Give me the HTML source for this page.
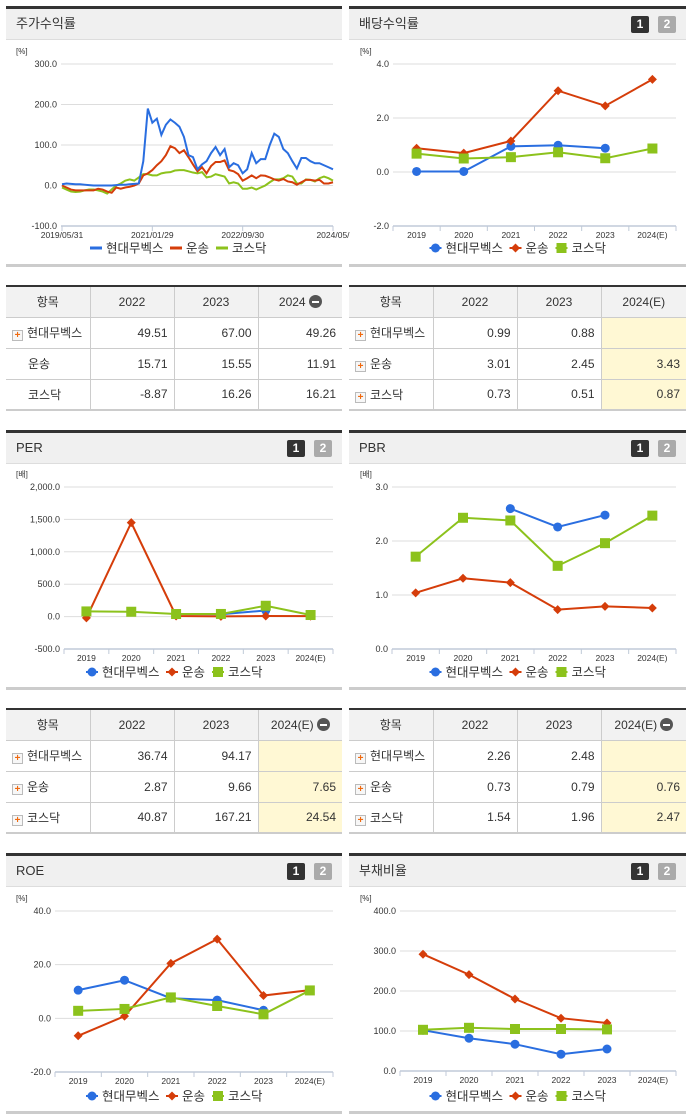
<!DOCTYPE html>
<html><head><meta charset="utf-8">
<style>
*{margin:0;padding:0;box-sizing:border-box}
body{width:691px;height:1115px;position:relative;background:#fff;font-family:"Liberation Sans","Noto Sans CJK KR",sans-serif;color:#333;overflow:hidden}
.panel{position:absolute;border-top:3px solid #333;border-bottom:3px solid #ccc}
.ph{height:31px;background:#f0f0f0;border-bottom:1px solid #ddd;font-size:13px;line-height:30px;padding-left:10px;position:relative;color:#333}
.btn{position:absolute;top:7px;width:18px;height:17px;font-size:12px;font-weight:bold;color:#fff;text-align:center;line-height:17px;border-radius:2px}
.b1{right:37px;background:#333}.b2{right:10px;background:#aaa}
table{position:absolute;border-collapse:collapse;border-top:2px solid #333;border-bottom:2px solid #ccc;font-size:12px}
td,th{border:1px solid #ccc;height:31px;font-weight:normal}
th{background:#f2f2f2;text-align:center}
td{text-align:right;padding-right:6px}
td.n{text-align:left;padding-left:6px}
tr td:first-child,tr th:first-child{border-left:none}
tr td:last-child,tr th:last-child{border-right:none}
.y{background:#fff8d4}
.plus{display:inline-block;width:11px;height:11px;border:1px solid #bbb;background:#f7f7f7;color:#f06a10;font-size:10px;line-height:9px;text-align:center;font-weight:bold;vertical-align:-1px;margin-right:4px}
.sp{display:inline-block;width:16px}
.minus{display:inline-block;width:13px;height:13px;border-radius:50%;background:#555;vertical-align:-2px;margin-left:3px;position:relative}
.minus:after{content:"";position:absolute;left:3px;top:6px;width:7px;height:2px;background:#fff}
svg{position:absolute;left:0;top:0}
</style></head><body>

<div class="panel" style="left:6px;top:6px;width:336px;height:261px"><div class="ph">주가수익률</div></div>
<div class="panel" style="left:349px;top:6px;width:337px;height:261px"><div class="ph">배당수익률<span class="btn b1">1</span><span class="btn b2">2</span></div></div>
<div class="panel" style="left:6px;top:430px;width:336px;height:260px"><div class="ph">PER<span class="btn b1">1</span><span class="btn b2">2</span></div></div>
<div class="panel" style="left:349px;top:430px;width:337px;height:260px"><div class="ph">PBR<span class="btn b1">1</span><span class="btn b2">2</span></div></div>
<div class="panel" style="left:6px;top:853px;width:336px;height:261px"><div class="ph">ROE<span class="btn b1">1</span><span class="btn b2">2</span></div></div>
<div class="panel" style="left:349px;top:853px;width:337px;height:261px"><div class="ph">부채비율<span class="btn b1">1</span><span class="btn b2">2</span></div></div>

<table style="left:6px;top:285px;width:336px">
<colgroup><col style="width:84px"><col style="width:84px"><col style="width:84px"><col style="width:84px"></colgroup>
<tr><th>항목</th><th>2022</th><th>2023</th><th>2024<span class="minus"></span></th></tr>
<tr><td class="n"><span class="plus">+</span>현대무벡스</td><td>49.51</td><td>67.00</td><td>49.26</td></tr>
<tr><td class="n"><span class="sp"></span>운송</td><td>15.71</td><td>15.55</td><td>11.91</td></tr>
<tr><td class="n"><span class="sp"></span>코스닥</td><td>-8.87</td><td>16.26</td><td>16.21</td></tr>
</table>
<table style="left:349px;top:285px;width:337px">
<colgroup><col style="width:84px"><col style="width:84px"><col style="width:84px"><col style="width:85px"></colgroup>
<tr><th>항목</th><th>2022</th><th>2023</th><th>2024(E)</th></tr>
<tr><td class="n"><span class="plus">+</span>현대무벡스</td><td>0.99</td><td>0.88</td><td class="y"></td></tr>
<tr><td class="n"><span class="plus">+</span>운송</td><td>3.01</td><td>2.45</td><td class="y">3.43</td></tr>
<tr><td class="n"><span class="plus">+</span>코스닥</td><td>0.73</td><td>0.51</td><td class="y">0.87</td></tr>
</table>
<table style="left:6px;top:708px;width:336px">
<colgroup><col style="width:84px"><col style="width:84px"><col style="width:84px"><col style="width:84px"></colgroup>
<tr><th>항목</th><th>2022</th><th>2023</th><th>2024(E)<span class="minus"></span></th></tr>
<tr><td class="n"><span class="plus">+</span>현대무벡스</td><td>36.74</td><td>94.17</td><td class="y"></td></tr>
<tr><td class="n"><span class="plus">+</span>운송</td><td>2.87</td><td>9.66</td><td class="y">7.65</td></tr>
<tr><td class="n"><span class="plus">+</span>코스닥</td><td>40.87</td><td>167.21</td><td class="y">24.54</td></tr>
</table>
<table style="left:349px;top:708px;width:337px">
<colgroup><col style="width:84px"><col style="width:84px"><col style="width:84px"><col style="width:85px"></colgroup>
<tr><th>항목</th><th>2022</th><th>2023</th><th>2024(E)<span class="minus"></span></th></tr>
<tr><td class="n"><span class="plus">+</span>현대무벡스</td><td>2.26</td><td>2.48</td><td class="y"></td></tr>
<tr><td class="n"><span class="plus">+</span>운송</td><td>0.73</td><td>0.79</td><td class="y">0.76</td></tr>
<tr><td class="n"><span class="plus">+</span>코스닥</td><td>1.54</td><td>1.96</td><td class="y">2.47</td></tr>
</table>

<svg id="charts" width="691" height="1115"></svg>

<script>
// ---- data ----
const years = ["2019","2020","2021","2022","2023","2024(E)"];
const seriesNames = ["현대무벡스","운송","코스닥"];
const stockTickLabels = ["2019/05/31","2021/01/29","2022/09/30","2024/05/"];
const stockTickIdx = [0,20,40,60];
const stockHyundai = [3,5,4,3,3,2,1,0,0,0,0,0,1,2,2,3,4,5,60,190,155,165,125,150,163,155,145,120,75,70,40,52,60,80,95,75,90,45,55,50,30,40,80,55,65,65,100,128,120,90,80,60,42,68,68,60,55,55,50,45,40];
const stockTransport = [0,-5,-10,-12,-12,-12,-12,-12,-8,-10,-15,-18,-5,-8,-5,-3,0,5,25,30,38,50,60,75,97,92,80,87,70,52,35,45,30,48,58,58,62,38,35,28,12,18,25,18,25,24,20,15,12,16,10,8,2,8,14,14,12,14,5,5,8];
const stockKosdaq = [-5,-10,-15,-16,-15,-12,-10,-10,-12,-15,-20,-10,0,5,12,15,12,20,28,28,25,25,30,32,33,37,38,38,35,32,30,33,20,22,28,25,22,5,8,5,-8,-8,-5,-10,-5,0,8,15,15,18,25,22,5,5,15,14,10,18,22,18,12];
const stockTicks = [300,200,100,0,-100];

const divHyundai = [0.02,0.02,0.95,0.99,0.88,null];
const divTransport = [0.88,0.70,1.15,3.01,2.45,3.43];
const divKosdaq = [0.68,0.50,0.55,0.73,0.51,0.87];
const divTicks = [4,2,0,-2];

const perHyundai = [null,null,40,36.74,94.17,null];
const perTransport = [-20,1450,10,2.87,9.66,7.65];
const perKosdaq = [80,75,40,40.87,167.21,24.54];
const perTicks = [2000,1500,1000,500,0,-500];

const pbrHyundai = [null,null,2.6,2.26,2.48,null];
const pbrTransport = [1.04,1.31,1.23,0.73,0.79,0.76];
const pbrKosdaq = [1.71,2.43,2.38,1.54,1.96,2.47];
const pbrTicks = [3,2,1,0];

const roeHyundai = [10.5,14.2,7.5,6.8,3.0,null];
const roeTransport = [-6.5,0.8,20.5,29.5,8.5,10.5];
const roeKosdaq = [2.8,3.5,7.8,4.6,1.5,10.4];
const roeTicks = [40,20,0,-20];

const debtHyundai = [102,82,67,42,55,null];
const debtTransport = [292,241,180,132,120,null];
const debtKosdaq = [103,108,105,105,104,null];
const debtTicks = [400,300,200,100,0];

// ---- drawing ----
const NS="http://www.w3.org/2000/svg";
const svg=document.getElementById('charts');
const COL=["#2a6ee0","#d53d0a","#8cc21c"];
function mk(tag,attrs,parent){const e=document.createElementNS(NS,tag);for(const k in attrs)e.setAttribute(k,attrs[k]);(parent||svg).appendChild(e);return e;}
function fmt(v){const s=Math.abs(v).toFixed(1).split('.');const i=s[0].replace(/\B(?=(\d{3})+(?!\d))/g,',');return (v<0?'-':'')+i+'.'+s[1];}

function axisY(g,c){
  const ys=v=>c.y0+(c.max-v)/(c.max-c.min)*(c.y1-c.y0);
  c.ticks.forEach(t=>{
    const y=ys(t);
    if(t!==c.min){const l=mk('line',{x1:c.x0,x2:c.x1,y1:y,y2:y,stroke:'#ddd','stroke-width':1},g);
      
      }
    const tx=mk('text',{x:c.x0-4,y:y+3,'font-size':9,'text-anchor':'end',fill:'#333'},g);tx.textContent=fmt(t);
    
    
  });
  const u=mk('text',{x:c.ux,y:c.y0-10,'font-size':8,fill:'#333'},g);u.textContent=c.unit;
  
  
  const ax=mk('line',{x1:c.x0,x2:c.x1,y1:c.y1,y2:c.y1,stroke:'#c0cad8','stroke-width':1.5},g);
  
  
  return ys;
}
function marker(g,i,x,y){
  let m;
  if(i===0)m=mk('circle',{cx:x,cy:y,r:4.5,fill:COL[0]},g);
  else if(i===1)m=mk('path',{d:`M${x} ${y-4.5}L${x+4.5} ${y}L${x} ${y+4.5}L${x-4.5} ${y}Z`,fill:COL[1]},g);
  else m=mk('rect',{x:x-5,y:y-5,width:10,height:10,fill:COL[2]},g);
  return m;
}
function legend(g,cx,y,lines){
  const widths=[80,46,50];const total=widths.reduce((a,b)=>a+b,0);let x=cx-total/2;
  seriesNames.forEach((n,i)=>{
    const it=mk('g',{},g);
    
    
    mk('line',{x1:x,x2:x+12,y1:y,y2:y,stroke:COL[i],'stroke-width':lines?3:2},it);
    if(!lines)marker(it,i,x+6,y);
    const t=mk('text',{x:x+16,y:y+4.5,'font-size':12.5,fill:'#333'},it);t.textContent=n;
    x+=widths[i];
  });
}
function catChart(name,c,series){
  const g=mk('g',{});
  
  
  const ys=axisY(g,c);
  const bw=(c.x1-c.x0)/years.length;
  const xs=i=>c.x0+bw*(i+0.5);
  for(let i=0;i<=years.length;i++){mk('line',{x1:c.x0+bw*i,x2:c.x0+bw*i,y1:c.y1,y2:c.y1+5,stroke:'#c0cad8'},g);}
  years.forEach((yr,i)=>{const t=mk('text',{x:xs(i),y:c.y1+12,'font-size':8.5,'text-anchor':'middle',fill:'#333'},g);t.textContent=yr;
    
    });
  series.forEach((arr,si)=>{
    let d='';let pen=false;
    arr.forEach((v,i)=>{if(v===null){pen=false;return;}d+=(pen?'L':'M')+xs(i)+' '+ys(v);pen=true;});
    const p=mk('path',{d:d,fill:'none',stroke:COL[si],'stroke-width':2},g);
    
    
    arr.forEach((v,i)=>{if(v===null)return;const m=marker(g,si,xs(i),ys(v));
      
      });
  });
  legend(g,(c.px0+c.px1)/2,c.ly,false);
}

// stock return chart
(function(){
  const c={x0:61,x1:333,y0:64,y1:226,max:300,min:-100,ticks:stockTicks,unit:'[%]',ux:16};
  const g=mk('g',{});
  
  
  const ys=axisY(g,c);
  const n=stockHyundai.length-1;
  const xs=i=>c.x0+1+i*(c.x1-c.x0-1)/n;
  stockTickIdx.forEach((ti,k)=>{
    mk('line',{x1:xs(ti),x2:xs(ti),y1:c.y1,y2:c.y1+5,stroke:'#c0cad8'},g);
    const t=mk('text',{x:xs(ti),y:c.y1+12,'font-size':8.5,'text-anchor':'middle',fill:'#333'},g);t.textContent=stockTickLabels[k];
    
    
  });
  [stockKosdaq,stockTransport,stockHyundai].forEach((arr,j)=>{
    const si=2-j;
    const p=mk('path',{d:arr.map((v,i)=>(i?'L':'M')+xs(i)+' '+ys(v)).join(''),fill:'none',stroke:COL[si],'stroke-width':2},g);
    
    
  });
  legend(g,178,248,true);
})();

catChart('dividend-chart',{x0:393,x1:676,y0:64,y1:226,max:4,min:-2,ticks:divTicks,unit:'[%]',ux:360,px0:349,px1:686,ly:248},[divHyundai,divTransport,divKosdaq]);
catChart('per-chart',{x0:64,x1:333,y0:487,y1:649,max:2000,min:-500,ticks:perTicks,unit:'[배]',ux:16,px0:6,px1:342,ly:672},[perHyundai,perTransport,perKosdaq]);
catChart('pbr-chart',{x0:392,x1:676,y0:487,y1:649,max:3,min:0,ticks:pbrTicks,unit:'[배]',ux:360,px0:349,px1:686,ly:672},[pbrHyundai,pbrTransport,pbrKosdaq]);
catChart('roe-chart',{x0:55,x1:333,y0:911,y1:1072,max:40,min:-20,ticks:roeTicks,unit:'[%]',ux:16,px0:6,px1:342,ly:1096},[roeHyundai,roeTransport,roeKosdaq]);
catChart('debt-ratio-chart',{x0:400,x1:676,y0:911,y1:1071,max:400,min:0,ticks:debtTicks,unit:'[%]',ux:360,px0:349,px1:686,ly:1096},[debtHyundai,debtTransport,debtKosdaq]);
</script>
</body></html>
